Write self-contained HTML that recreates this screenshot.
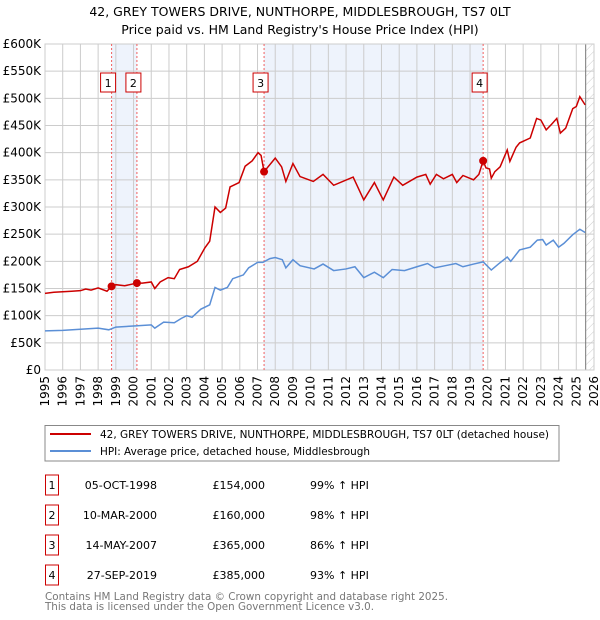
<!DOCTYPE html>
<html><head><meta charset="utf-8"><style>
body{margin:0;background:#fff;font-family:"Liberation Sans","DejaVu Sans",sans-serif;}
svg{display:block}
</style></head><body>
<svg width="600" height="620" font-family="DejaVu Sans, Liberation Sans, sans-serif">
<defs><pattern id="hatch" width="6" height="6" patternUnits="userSpaceOnUse" patternTransform="rotate(45)"><line x1="0" y1="0" x2="0" y2="6" stroke="#ccc" stroke-width="1"/></pattern></defs>
<text x="300" y="16" text-anchor="middle" font-size="12.5">42, GREY TOWERS DRIVE, NUNTHORPE, MIDDLESBROUGH, TS7 0LT</text>
<text x="300" y="34" text-anchor="middle" font-size="12.5">Price paid vs. HM Land Registry's House Price Index (HPI)</text>
<g id="plot"></g>
<rect x="45" y="425.5" width="514" height="35.5" fill="#fff" stroke="#888"/>
<line x1="50" y1="434" x2="91" y2="434" stroke="#cc0000" stroke-width="2"/>
<text x="100" y="438" font-size="11" textLength="449" lengthAdjust="spacingAndGlyphs">42, GREY TOWERS DRIVE, NUNTHORPE, MIDDLESBROUGH, TS7 0LT (detached house)</text>
<line x1="50" y1="451" x2="91" y2="451" stroke="#5b8fd6" stroke-width="2"/>
<text x="100" y="455" font-size="11" textLength="270" lengthAdjust="spacingAndGlyphs">HPI: Average price, detached house, Middlesbrough</text>
<g id="table" font-size="11"></g>
<text x="45" y="600" font-size="11" fill="#777" textLength="403" lengthAdjust="spacingAndGlyphs">Contains HM Land Registry data © Crown copyright and database right 2025.</text>
<text x="45" y="610" font-size="11" fill="#777" textLength="329" lengthAdjust="spacingAndGlyphs">This data is licensed under the Open Government Licence v3.0.</text>
</svg>
<script>
const yTicks=[0,50,100,150,200,250,300,350,400,450,500,550,600];
const yTickLabels=["£0","£50K","£100K","£150K","£200K","£250K","£300K","£350K","£400K","£450K","£500K","£550K","£600K"];
const xYears=[1995,1996,1997,1998,1999,2000,2001,2002,2003,2004,2005,2006,2007,2008,2009,2010,2011,2012,2013,2014,2015,2016,2017,2018,2019,2020,2021,2022,2023,2024,2025,2026];
const saleTimes=[1998.76,2000.19,2007.37,2019.74];
const salePrices=[154,160,365,385];
const saleLabels=["1","2","3","4"];
const saleDates=["05-OCT-1998","10-MAR-2000","14-MAY-2007","27-SEP-2019"];
const salePriceText=["£154,000","£160,000","£365,000","£385,000"];
const saleHpiText=["99% ↑ HPI","98% ↑ HPI","86% ↑ HPI","93% ↑ HPI"];
const redT=[1995,1995.5,1996,1996.5,1997,1997.3,1997.6,1998,1998.5,1998.76,1999,1999.5,2000.19,2000.5,2001,2001.2,2001.5,2001.95,2002.3,2002.6,2003.1,2003.6,2004.03,2004.3,2004.6,2004.9,2005.2,2005.45,2005.96,2006.3,2006.7,2007.03,2007.2,2007.37,2008,2008.36,2008.6,2009,2009.4,2010.15,2010.7,2011.3,2012.4,2013,2013.6,2014.1,2014.7,2015.2,2016,2016.5,2016.75,2017.1,2017.5,2018,2018.25,2018.6,2019.2,2019.5,2019.74,2019.9,2020.1,2020.2,2020.4,2020.7,2021.1,2021.25,2021.6,2021.8,2022.4,2022.76,2023,2023.3,2023.6,2023.9,2024.1,2024.4,2024.8,2025,2025.2,2025.5];
const redV=[141,143,144,145,146,149,147,151,145,154,157,155,160,160,162,150,162,170,168,185,190,200,225,237,300,290,298,337,345,375,385,400,395,365,390,374,347,380,356,347,360,340,355,313,345,313,355,340,355,360,342,360,352,360,345,358,350,360,385,372,370,353,365,374,405,384,410,418,427,463,460,442,452,463,436,445,481,485,503,488];
const hpiT=[1995,1996,1997,1998,1998.6,1999,2000,2001,2001.2,2001.7,2002.3,2002.7,2003,2003.3,2003.8,2004.3,2004.6,2004.9,2005.3,2005.6,2006.2,2006.5,2007,2007.3,2007.7,2008,2008.4,2008.6,2009,2009.4,2010.2,2010.7,2011.3,2012,2012.5,2013,2013.6,2014.1,2014.6,2015.3,2016,2016.6,2017,2017.6,2018.2,2018.6,2019.2,2019.74,2020.2,2020.6,2021.1,2021.3,2021.8,2022.4,2022.8,2023.1,2023.3,2023.7,2024,2024.3,2024.8,2025.2,2025.5];
const hpiV=[72,73,75,77,74,79,81,83,77,88,87,95,100,97,112,120,152,147,152,168,175,188,198,198,205,207,203,188,203,192,186,195,183,186,190,170,180,170,185,183,190,196,188,192,196,190,195,199,184,195,208,200,221,226,239,240,230,239,226,233,249,259,253];
const dataEnd=2025.53;

const NS="http://www.w3.org/2000/svg";
const L=45,R=594,T=44,B=370;
const xs=t=>L+(t-1995)/(2026-1995)*(R-L);
const ys=v=>B-v/600*(B-T);
const plot=document.getElementById('plot');
function mk(tag,attrs,parent){const e=document.createElementNS(NS,tag);for(const k in attrs)e.setAttribute(k,attrs[k]);(parent||plot).appendChild(e);return e;}
let e;
e=mk('rect',{x:L,y:T,width:R-L,height:B-T,fill:'#fff'});


[[0,1],[2,3]].forEach(p=>{
 e=mk('rect',{x:xs(saleTimes[p[0]]),y:T,width:xs(saleTimes[p[1]])-xs(saleTimes[p[0]]),height:B-T,fill:'#eef3fc'});
 
 
});
e=mk('rect',{x:xs(dataEnd),y:T,width:R-xs(dataEnd),height:B-T,fill:'url(#hatch)'});


yTicks.forEach((v,i)=>{
 e=mk('line',{x1:L,x2:R,y1:ys(v),y2:ys(v),stroke:'#ccc','stroke-width':1});
 
 
 e=mk('text',{x:L-4,y:ys(v)+4,'text-anchor':'end','font-size':12});
 e.textContent=yTickLabels[i];
 
 
});
xYears.forEach(yr=>{
 const x=xs(yr);
 e=mk('line',{x1:x,x2:x,y1:T,y2:B,stroke:'#ccc','stroke-width':1});
 
 
 e=mk('text',{x:0,y:0,'text-anchor':'end','font-size':12,transform:`translate(${x+4},${B+6}) rotate(-90)`});
 e.textContent=yr;
 
 
});
e=mk('line',{x1:xs(dataEnd),x2:xs(dataEnd),y1:T,y2:B,stroke:'#777','stroke-width':1});


e=mk('rect',{x:L,y:T,width:R-L,height:B-T,fill:'none',stroke:'#ccc'});


saleTimes.forEach((t,i)=>{
 const x=xs(t);
 e=mk('line',{x1:x,x2:x,y1:T,y2:B,stroke:'#f06060','stroke-width':1,'stroke-dasharray':'2,2'});
 
 
 e=mk('rect',{x:x-11,y:73,width:15,height:19,fill:'#fff',stroke:'#cc0000'});
 
 
 e=mk('text',{x:x-3.5,y:87,'text-anchor':'middle','font-size':11});
 e.textContent=saleLabels[i];
 
 
});
e=mk('polyline',{points:hpiT.map((t,i)=>xs(t)+','+ys(hpiV[i])).join(' '),fill:'none',stroke:'#5b8fd6','stroke-width':1.5});


e=mk('polyline',{points:redT.map((t,i)=>xs(t)+','+ys(redV[i])).join(' '),fill:'none',stroke:'#cc0000','stroke-width':1.5});


saleTimes.forEach((t,i)=>{
 e=mk('circle',{cx:xs(t),cy:ys(salePrices[i]),r:4,fill:'#cc0000'});
 
 
});
const tbl=document.getElementById('table');
saleLabels.forEach((lab,i)=>{
 const yc=485+i*30;
 e=mk('rect',{x:45.5,y:yc-10,width:13,height:20,fill:'#fff',stroke:'#cc0000'},tbl);
 
 
 e=mk('text',{x:52,y:yc+4,'text-anchor':'middle'},tbl);
 e.textContent=lab;
 
 
 e=mk('text',{x:157,y:yc+4,'text-anchor':'end'},tbl);
 e.textContent=saleDates[i];
 
 
 e=mk('text',{x:265,y:yc+4,'text-anchor':'end'},tbl);
 e.textContent=salePriceText[i];
 
 
 e=mk('text',{x:310,y:yc+4},tbl);
 e.textContent=saleHpiText[i];
 
 
});
</script>
</body></html>
